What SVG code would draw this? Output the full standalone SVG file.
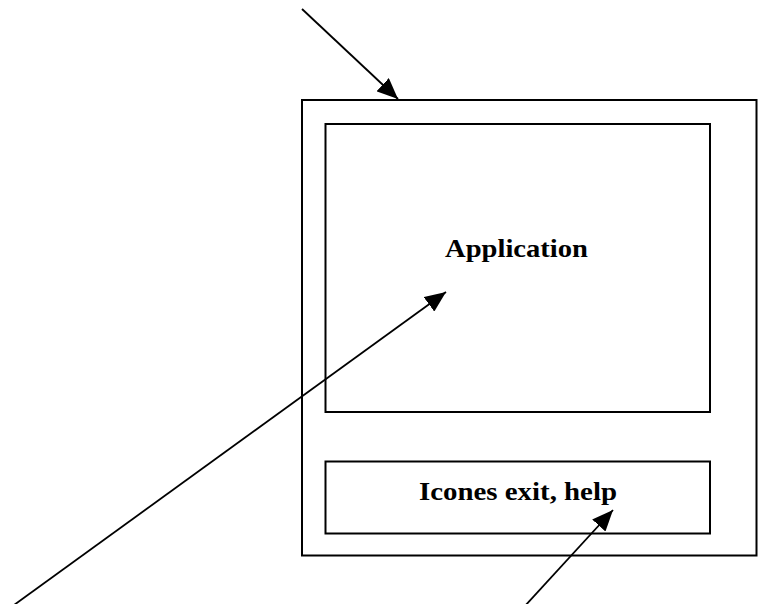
<svg xmlns="http://www.w3.org/2000/svg" width="758" height="604" viewBox="0 0 758 604">
<style>
.box{fill:none;stroke:#000;stroke-width:2}
.lbl{font-family:"Liberation Serif","DejaVu Serif",serif;font-weight:bold;font-size:25px;fill:#000}
.conn{stroke:#000;stroke-width:1.8;fill:none;marker-end:url(#ah)}
</style>
<defs>
<marker id="ah" markerWidth="24" markerHeight="18" refX="21" refY="9" orient="auto" markerUnits="userSpaceOnUse">
<path d="M0,0 L21,9 L0,18 Z" fill="#000"/>
</marker>
</defs>
<rect width="758" height="604" fill="#fff"/>
<g id="screen"><rect class="box" x="302" y="100" width="454.5" height="455.5"/></g>
<g id="application"><rect class="box" x="325.5" y="124" width="384.5" height="288"/>
<text class="lbl" x="516.5" y="257" text-anchor="middle" textLength="143" lengthAdjust="spacingAndGlyphs">Application</text></g>
<g id="icons"><rect class="box" x="325.5" y="461.5" width="384.5" height="72"/>
<text class="lbl" x="518" y="500" text-anchor="middle" textLength="198" lengthAdjust="spacingAndGlyphs">Icones exit, help</text></g>
<g id="connectors">
<line class="conn" x1="302" y1="9" x2="398" y2="99"/>
<line class="conn" x1="14" y1="605" x2="446" y2="292"/>
<line class="conn" x1="524" y1="607" x2="613" y2="510"/>
</g>
</svg>
